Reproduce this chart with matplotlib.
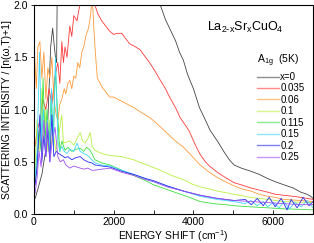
import matplotlib
matplotlib.use("Agg")
import matplotlib.pyplot as plt
from matplotlib.ticker import MultipleLocator, FormatStrFormatter

plt.rcParams['font.family'] = ['Liberation Sans', 'DejaVu Sans']
plt.rcParams['mathtext.default'] = 'regular'

# energy shift (cm-1) and intensity for each doping
e_x0 = [30, 100, 200, 300, 350, 380, 420, 470, 500, 540, 570, 590, 1000, 3100, 3170, 3300, 3450, 3550,
        3650, 3750, 3850, 4000, 4150, 4300, 4420, 4600, 4760, 4900, 5020, 5200, 5440, 5650, 5860, 6050,
        6270, 6500, 6690, 6850, 6940, 7000]
i_x0 = [0.15, 0.24, 0.38, 0.62, 0.9, 1.2, 1.6, 1.78, 1.65, 1.5, 1.45, 2.4, 3.5, 2.1, 2.0, 1.86, 1.74, 1.66,
        1.55, 1.47, 1.34, 1.2, 1.02, 0.9, 0.8, 0.7, 0.6, 0.52, 0.47, 0.44, 0.41, 0.38, 0.34, 0.31,
        0.28, 0.25, 0.21, 0.19, 0.17, 0.15]

e_x035 = [30, 80, 150, 220, 300, 380, 450, 520, 600, 650, 700, 740, 780, 830, 900, 950, 1000, 1080, 1150,
          1200, 1400, 1530, 1600, 1700, 1800, 1900, 2000, 2100, 2200, 2300, 2400, 2550, 2670, 2800, 2900,
          3050, 3170, 3300, 3400, 3550, 3670, 3800, 3900, 4050, 4170, 4300, 4400, 4600, 4800, 5020, 5200,
          5440, 5650, 5860, 6050, 6270, 6500, 6690, 6850, 7000]
i_x035 = [0.65, 0.8, 0.9, 1.1, 1.0, 1.2, 1.05, 1.3, 1.45, 1.25, 1.65, 1.45, 1.6, 1.5, 1.8, 1.7, 1.9, 1.85, 2.0,
          2.1, 2.2, 2.0, 1.92, 1.85, 1.8, 1.75, 1.72, 1.73, 1.73, 1.68, 1.63, 1.6, 1.57, 1.5, 1.45,
          1.36, 1.28, 1.2, 1.12, 1.02, 0.92, 0.85, 0.79, 0.66, 0.57, 0.5, 0.46, 0.40, 0.35, 0.30, 0.28,
          0.25, 0.23, 0.21, 0.19, 0.18, 0.17, 0.16, 0.15, 0.14]

e_x06 = [20, 60, 100, 150, 200, 250, 300, 350, 400, 450, 500, 560, 600, 650, 700, 760, 800, 850, 900, 950,
         1000, 1050, 1100, 1150, 1200, 1250, 1300, 1370, 1420, 1460, 1500, 1540, 1590, 1650, 1700, 1800,
         1900, 2000, 2150, 2300, 2500, 2700, 2920, 3100, 3350, 3550, 3750, 3950, 4170, 4400, 4600, 4800,
         5020, 5220, 5440, 5650, 5860, 6050, 6270, 6500, 6690, 7000]
i_x06 = [1.5, 1.2, 1.6, 1.65, 1.3, 1.55, 1.1, 1.4, 1.3, 1.5, 1.1, 0.95, 0.9, 1.05, 1.1, 1.2, 1.15, 1.25, 1.28, 1.2,
         1.32, 1.3, 1.45, 1.4, 1.55, 1.6, 1.7, 1.78, 1.9, 2.1, 1.8, 1.55, 1.3, 1.26, 1.22, 1.17,
         1.12, 1.12, 1.09, 1.06, 1.02, 0.97, 0.92, 0.86, 0.77, 0.7, 0.64, 0.56, 0.47, 0.40, 0.35, 0.31,
         0.27, 0.24, 0.22, 0.19, 0.17, 0.16, 0.14, 0.135, 0.13, 0.12]

e_x10 = [30, 80, 130, 180, 230, 280, 330, 380, 430, 480, 550, 620, 700, 740, 830, 900, 1000, 1080, 1160, 1220,
         1280, 1350, 1410, 1460, 1530, 1700, 1910, 2200, 2500, 2900, 3170, 3450, 3750, 3950, 4170, 4400,
         4600, 5020, 5440, 5860, 6270, 6600, 6940]
i_x10 = [0.45, 0.9, 0.6, 1.2, 0.7, 1.0, 0.6, 0.9, 0.65, 0.8, 0.6, 0.75, 0.95, 0.68, 0.69, 0.7, 0.66, 0.72, 0.78, 0.7,
         0.68, 0.72, 0.78, 0.65, 0.61, 0.58, 0.56, 0.55, 0.52, 0.46, 0.42, 0.37, 0.33, 0.29, 0.26, 0.24,
         0.22, 0.19, 0.16, 0.14, 0.12, 0.115, 0.11]

e_x115 = [30, 80, 130, 180, 230, 280, 330, 380, 430, 480, 540, 600, 650, 700, 780, 850, 950, 1050, 1160,
          1250, 1320, 1410, 1480, 1530, 1700, 1910, 2200, 2500, 2800, 3000, 3300, 3600, 3900, 4170, 4500,
          4800, 5020, 5400, 5860, 6300, 6700, 7000]
i_x115 = [0.3, 0.5, 0.8, 0.6, 1.3, 0.7, 1.0, 0.6, 1.1, 0.7, 1.4, 0.92, 0.6, 0.7, 0.61, 0.64, 0.6, 0.62, 0.63,
          0.6, 0.64, 0.61, 0.56, 0.52, 0.49, 0.47, 0.42, 0.37, 0.32, 0.28, 0.24, 0.2, 0.16, 0.12, 0.1,
          0.09, 0.08, 0.07, 0.06, 0.05, 0.045, 0.04]

e_x15 = [30, 80, 140, 190, 240, 290, 340, 390, 440, 490, 540, 600, 650, 700, 760, 830, 900, 1000, 1080,
         1160, 1250, 1350, 1450, 1530, 1700, 1910, 2200, 2500, 2800, 3000, 3340, 3750, 4170, 4600, 5020,
         5300, 5440, 5600, 5750, 5860, 6000, 6150, 6270, 6400, 6550, 6700, 6850, 7000]
i_x15 = [0.35, 0.6, 1.55, 0.7, 1.0, 0.55, 0.9, 0.6, 1.2, 0.65, 1.5, 0.7, 0.6, 0.65, 0.6, 0.58, 0.62, 0.6, 0.68,
         0.6, 0.58, 0.56, 0.52, 0.49, 0.47, 0.46, 0.42, 0.38, 0.34, 0.31, 0.27, 0.22, 0.17, 0.14, 0.12,
         0.1, 0.13, 0.08, 0.12, 0.07, 0.11, 0.06, 0.12, 0.05, 0.11, 0.07, 0.13, 0.06]

e_x20 = [30, 80, 150, 200, 250, 300, 350, 400, 450, 500, 560, 620, 700, 780, 850, 950, 1050, 1160, 1250,
         1350, 1450, 1530, 1700, 1910, 2200, 2500, 2800, 3000, 3340, 3750, 4170, 4600, 5020, 5300, 5450,
         5600, 5750, 5900, 6050, 6200, 6350, 6450, 6600, 6750, 6900, 7000]
i_x20 = [0.28, 0.45, 0.95, 0.5, 0.75, 0.55, 0.8, 0.5, 0.95, 0.55, 0.6, 0.58, 0.56, 0.54, 0.55, 0.52, 0.54, 0.55, 0.52,
         0.5, 0.49, 0.47, 0.46, 0.45, 0.41, 0.38, 0.34, 0.32, 0.27, 0.22, 0.18, 0.15, 0.13, 0.14, 0.09,
         0.15, 0.08, 0.16, 0.07, 0.15, 0.04, 0.14, 0.06, 0.16, 0.08, 0.12]

e_x25 = [30, 80, 130, 180, 250, 300, 330, 400, 460, 530, 600, 660, 740, 800, 900, 1000, 1080, 1160, 1250,
         1350, 1450, 1530, 1700, 1910, 2200, 2500, 2800, 3000, 3340, 3750, 4170, 4600, 5020, 5440, 5860,
         6270, 6700, 7000]
i_x25 = [0.2, 0.35, 0.6, 0.45, 0.9, 0.55, 0.88, 0.5, 0.7, 0.83, 0.55, 0.5, 0.52, 0.47, 0.44, 0.46, 0.45, 0.44, 0.43,
         0.44, 0.42, 0.42, 0.43, 0.44, 0.4, 0.37, 0.33, 0.31, 0.26, 0.22, 0.18, 0.15, 0.13, 0.12, 0.11,
         0.1, 0.09, 0.09]

series = [(e_x0, i_x0, 'x=0', '#444444'),
          (e_x035, i_x035, '0.035', '#ff3a3a'),
          (e_x06, i_x06, '0.06', '#ff9a3a'),
          (e_x10, i_x10, '0.1', '#b8f040'),
          (e_x115, i_x115, '0.115', '#3ee03e'),
          (e_x15, i_x15, '0.15', '#3ed8f5'),
          (e_x20, i_x20, '0.2', '#2a2af5'),
          (e_x25, i_x25, '0.25', '#a050f0')]

fig = plt.figure(figsize=(3.14, 2.43), dpi=100)
ax = fig.add_axes([0.108, 0.119, 0.889, 0.86])

for e, y, lab, col in series:
    ax.plot(e, y, color=col, lw=0.6, label=lab)

ax.set_xlim(0, 7000)
ax.set_ylim(0, 2.0)
ax.xaxis.set_major_locator(MultipleLocator(2000))
ax.xaxis.set_minor_locator(MultipleLocator(1000))
ax.yaxis.set_major_locator(MultipleLocator(0.5))
ax.yaxis.set_major_formatter(FormatStrFormatter('%.1f'))
ax.tick_params(axis='x', which='both', direction='in', length=3, width=0.6)
ax.tick_params(axis='y', direction='out', length=2.5, width=0.6)
ax.tick_params(which='both', labelsize=7.5, pad=2)
for s in ax.spines.values():
    s.set_linewidth(0.8)

ax.set_xlabel('ENERGY SHIFT (cm$^{-1}$)', fontsize=7.5, labelpad=1)
ax.set_ylabel('SCATTERING INTENSITY / [n(ω,T)+1]', fontsize=7.5, labelpad=1)

ax.text(0.62, 0.875, 'La$_{2\\text{-}x}$Sr$_x$CuO$_4$', transform=ax.transAxes, fontsize=9)

leg = ax.legend(loc='upper right', bbox_to_anchor=(0.99, 0.80), frameon=False, fontsize=7,
                handlelength=2.2, handletextpad=0.15, labelspacing=0.15, borderaxespad=0.2,
                title='A$_{1g}$  (5K)', title_fontsize=7.5)
leg._legend_box.align = 'left'
leg._legend_box.sep = 2
for h in leg.get_lines():
    h.set_alpha(0.6)
    h.set_linewidth(1.0)

fig.savefig('out.png', dpi=100)
